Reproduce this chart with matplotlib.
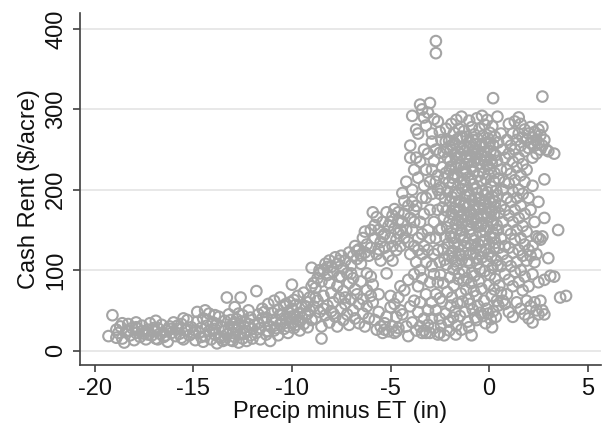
import numpy as np
import matplotlib
matplotlib.use("Agg")
import matplotlib.pyplot as plt

# (precip minus ET, cash rent) pairs, grouped by region

# very dry tail, -19.5 .. -15
dry_tail = [
    (-19.3, 18), (-19.1, 44), (-18.9, 26), (-18.8, 22), (-18.7, 30), (-18.6, 15), (-18.5, 10),
    (-18.4, 24), (-18.3, 33), (-18.2, 19), (-18.1, 28), (-18.0, 13), (-17.9, 22), (-17.9, 35),
    (-17.8, 27), (-17.7, 17), (-17.6, 31), (-17.5, 21), (-17.4, 14), (-17.3, 26), (-17.2, 34),
    (-17.1, 19), (-17.0, 24), (-16.9, 37), (-16.9, 15), (-16.8, 28), (-16.7, 21), (-16.6, 32),
    (-16.5, 17), (-16.4, 25), (-16.3, 11), (-16.2, 30), (-16.1, 22), (-16.0, 35), (-15.9, 18),
    (-15.8, 27), (-15.7, 21), (-15.6, 33), (-15.5, 14), (-15.4, 25), (-15.3, 38), (-15.2, 19),
    (-15.1, 29), (-15.0, 22), (-18.9, 16), (-18.3, 25), (-17.6, 24), (-17.0, 28), (-16.4, 19),
    (-15.8, 31), (-15.3, 26), (-16.8, 14), (-17.3, 20), (-18.6, 34), (-17.9, 29), (-16.1, 27),
    (-15.6, 16), (-15.5, 40),
]

# -15 .. -12
dry_mid = [
    (-14.9, 13), (-14.8, 36), (-14.8, 48), (-14.7, 22), (-14.6, 28), (-14.5, 11), (-14.5, 40),
    (-14.4, 18), (-14.3, 31), (-14.2, 46), (-14.2, 24), (-14.1, 14), (-14.0, 35), (-13.9, 20),
    (-13.9, 27), (-13.8, 9), (-13.7, 42), (-13.7, 17), (-13.6, 30), (-13.5, 24), (-13.5, 12),
    (-13.4, 37), (-13.3, 66), (-13.3, 20), (-13.2, 28), (-13.2, 45), (-13.1, 13), (-13.0, 33),
    (-13.0, 22), (-12.9, 54), (-12.9, 17), (-12.8, 39), (-12.8, 26), (-12.7, 10), (-12.7, 31),
    (-12.6, 66), (-12.6, 21), (-12.5, 44), (-12.5, 15), (-12.4, 29), (-12.4, 36), (-12.3, 12),
    (-12.3, 24), (-12.2, 50), (-12.2, 33), (-12.1, 19), (-12.1, 41), (-12.0, 27), (-14.6, 17),
    (-14.0, 25), (-13.6, 16), (-13.1, 38), (-12.9, 29), (-12.4, 21), (-14.9, 25), (-14.3, 38),
    (-13.8, 33), (-13.4, 14), (-12.7, 46), (-12.0, 15), (-14.4, 50), (-13.9, 44), (-13.0, 12),
    (-12.6, 36),
]

# -12 .. -9
semi_dry = [
    (-11.9, 32), (-11.8, 74), (-11.8, 22), (-11.7, 45), (-11.6, 28), (-11.6, 14), (-11.5, 52),
    (-11.4, 36), (-11.3, 20), (-11.3, 41), (-11.2, 58), (-11.1, 30), (-11.1, 12), (-11.0, 47),
    (-10.9, 25), (-10.9, 62), (-10.8, 38), (-10.7, 51), (-10.7, 19), (-10.6, 33), (-10.6, 66),
    (-10.5, 44), (-10.4, 27), (-10.4, 56), (-10.3, 39), (-10.2, 48), (-10.2, 22), (-10.1, 60),
    (-10.0, 82), (-10.0, 35), (-10.0, 52), (-9.9, 43), (-9.9, 28), (-9.8, 57), (-9.7, 38),
    (-9.7, 68), (-9.6, 47), (-9.6, 25), (-9.5, 54), (-9.4, 33), (-9.4, 72), (-9.3, 44),
    (-9.2, 60), (-9.2, 29), (-9.1, 50), (-9.0, 103), (-9.0, 38), (-9.0, 80), (-11.4, 48),
    (-11.0, 38), (-10.8, 28), (-10.5, 36), (-10.3, 58), (-10.1, 42), (-9.8, 32), (-9.5, 41),
    (-9.3, 55), (-9.1, 66), (-11.7, 34), (-11.2, 24), (-10.6, 45), (-9.9, 63), (-9.6, 36),
    (-9.2, 46), (-11.5, 40), (-10.2, 30),
]

# -9 .. -6, rising upper branch and flat lower part
transition = [
    (-8.9, 84), (-8.8, 78), (-8.7, 90), (-8.6, 96), (-8.5, 86), (-8.4, 100), (-8.3, 108),
    (-8.2, 94), (-8.1, 112), (-8.0, 104), (-7.9, 98), (-7.8, 116), (-7.7, 108), (-7.6, 92),
    (-7.5, 118), (-7.4, 102), (-7.3, 112), (-7.2, 96), (-7.1, 122), (-7.0, 106), (-6.9, 118),
    (-6.8, 130), (-6.7, 114), (-6.6, 126), (-6.5, 108), (-6.4, 140), (-6.3, 122), (-6.2, 132),
    (-6.1, 118), (-6.0, 150), (-6.0, 128), (-6.3, 148), (-6.7, 124), (-7.6, 112), (-8.2, 104),
    (-8.6, 100), (-7.0, 96), (-6.5, 118),
    (-8.9, 55), (-8.8, 40), (-8.7, 62), (-8.6, 48), (-8.5, 15), (-8.5, 30), (-8.4, 68),
    (-8.3, 44), (-8.2, 56), (-8.1, 35), (-8.0, 72), (-8.0, 49), (-7.9, 60), (-7.8, 42),
    (-7.7, 80), (-7.7, 30), (-7.6, 66), (-7.5, 52), (-7.4, 38), (-7.4, 74), (-7.3, 58),
    (-7.2, 45), (-7.1, 84), (-7.1, 32), (-7.0, 64), (-6.9, 50), (-6.9, 90), (-6.8, 40),
    (-6.7, 70), (-6.6, 58), (-6.6, 34), (-6.5, 86), (-6.4, 46), (-6.4, 64), (-6.3, 30),
    (-6.2, 75), (-6.2, 55), (-6.1, 40), (-6.0, 68), (-6.0, 92), (-8.4, 52), (-7.9, 46),
    (-7.3, 66), (-6.8, 76), (-6.2, 96), (-8.8, 66), (-8.1, 84), (-7.5, 92),
]

# -6 .. -4.5
near_normal = [
    (-5.9, 172), (-5.8, 140), (-5.7, 166), (-5.7, 120), (-5.6, 150), (-5.5, 135), (-5.5, 112),
    (-5.4, 160), (-5.3, 145), (-5.3, 128), (-5.2, 172), (-5.1, 155), (-5.1, 118), (-5.0, 140),
    (-4.9, 168), (-4.9, 130), (-4.8, 176), (-4.8, 152), (-4.7, 138), (-4.7, 125), (-4.6, 162),
    (-4.6, 146), (-4.5, 130), (-5.8, 156), (-5.4, 142), (-5.0, 160), (-4.6, 172), (-5.6, 126),
    (-4.9, 112), (-4.5, 150),
    (-5.9, 60), (-5.8, 38), (-5.7, 26), (-5.6, 48), (-5.5, 30), (-5.4, 22), (-5.3, 34),
    (-5.2, 42), (-5.1, 24), (-5.0, 68), (-5.0, 54), (-4.9, 30), (-4.8, 22), (-4.8, 58),
    (-4.7, 42), (-4.6, 66), (-4.6, 28), (-4.5, 50), (-4.5, 80), (-5.2, 96), (-5.6, 70),
    (-5.9, 82), (-4.7, 24), (-5.3, 26),
]

# -4.5 .. -2.5
humid_edge = [
    (-4.4, 196), (-4.3, 186), (-4.2, 210), (-4.1, 180), (-4.0, 255), (-4.0, 240), (-3.9, 292),
    (-3.9, 200), (-3.8, 225), (-3.8, 175), (-3.7, 240), (-3.7, 275), (-3.6, 270), (-3.6, 215),
    (-3.5, 306), (-3.5, 235), (-3.4, 300), (-3.4, 190), (-3.3, 290), (-3.3, 250), (-3.2, 280),
    (-3.2, 225), (-3.1, 296), (-3.1, 245), (-3.0, 308), (-3.0, 210), (-2.9, 270), (-2.9, 260),
    (-2.8, 288), (-2.8, 236), (-2.7, 385), (-2.7, 370), (-2.7, 250), (-2.6, 218), (-2.6, 285),
    (-2.5, 272), (-2.5, 246),
    (-4.4, 160), (-4.3, 140), (-4.2, 150), (-4.1, 135), (-4.0, 165), (-4.0, 120), (-3.9, 150),
    (-3.8, 130), (-3.8, 160), (-3.7, 110), (-3.7, 180), (-3.6, 140), (-3.6, 125), (-3.5, 160),
    (-3.5, 100), (-3.4, 145), (-3.4, 120), (-3.3, 170), (-3.3, 130), (-3.2, 110), (-3.2, 190),
    (-3.1, 150), (-3.1, 125), (-3.0, 175), (-3.0, 140), (-2.9, 105), (-2.9, 195), (-2.8, 160),
    (-2.8, 120), (-2.7, 210), (-2.7, 140), (-2.6, 175), (-2.6, 125), (-2.5, 195), (-2.5, 150),
    (-2.5, 110), (-4.3, 170), (-3.9, 185), (-3.3, 205), (-2.9, 225), (-2.6, 200),
    (-4.4, 45), (-4.3, 75), (-4.2, 30), (-4.1, 18), (-4.1, 88), (-4.0, 55), (-3.9, 35),
    (-3.8, 62), (-3.8, 95), (-3.7, 25), (-3.6, 48), (-3.6, 80), (-3.5, 30), (-3.5, 60),
    (-3.4, 22), (-3.4, 90), (-3.3, 40), (-3.3, 25), (-3.2, 70), (-3.2, 22), (-3.1, 50),
    (-3.1, 32), (-3.0, 85), (-3.0, 22), (-2.9, 60), (-2.9, 40), (-2.8, 95), (-2.8, 28),
    (-2.7, 70), (-2.7, 50), (-2.6, 20), (-2.6, 85), (-2.5, 40), (-2.5, 65), (-2.5, 22),
]

# dense core, -2.5 .. 0.5
core = [
    (-2.42, 262), (-2.38, 228), (-2.45, 203), (-2.36, 178), (-2.41, 152), (-2.33, 126), (-2.47, 94), (-2.39, 61), (-2.44, 31),
    (-2.31, 247), (-2.27, 214), (-2.24, 189), (-2.29, 166), (-2.22, 141), (-2.26, 113), (-2.33, 84), (-2.21, 46), (-2.28, 19),
    (-2.18, 276), (-2.14, 251), (-2.19, 221), (-2.11, 198), (-2.16, 174), (-2.13, 153), (-2.08, 133), (-2.17, 107), (-2.12, 73), (-2.06, 36),
    (-2.03, 261), (-1.98, 236), (-2.05, 209), (-1.96, 186), (-2.01, 161), (-1.94, 142), (-2.04, 118), (-1.99, 91), (-1.95, 56), (-2.02, 25),
    (-1.91, 282), (-1.87, 256), (-1.93, 229), (-1.84, 207), (-1.89, 191), (-1.82, 169), (-1.90, 146), (-1.85, 124), (-1.81, 101), (-1.88, 66), (-1.83, 41),
    (-1.78, 271), (-1.74, 244), (-1.80, 219), (-1.72, 197), (-1.77, 177), (-1.70, 157), (-1.76, 134), (-1.71, 111), (-1.79, 81), (-1.73, 49), (-1.69, 20),
    (-1.66, 287), (-1.62, 263), (-1.68, 239), (-1.59, 216), (-1.64, 194), (-1.57, 173), (-1.63, 151), (-1.58, 129), (-1.65, 106), (-1.56, 89), (-1.61, 59), (-1.67, 31),
    (-1.53, 276), (-1.49, 253), (-1.55, 231), (-1.46, 209), (-1.51, 186), (-1.44, 166), (-1.50, 143), (-1.45, 119), (-1.52, 96), (-1.43, 71), (-1.48, 43),
    (-1.40, 291), (-1.36, 266), (-1.42, 244), (-1.33, 222), (-1.38, 201), (-1.31, 180), (-1.37, 158), (-1.32, 137), (-1.39, 113), (-1.30, 87), (-1.35, 61), (-1.41, 26),
    (-1.27, 273), (-1.23, 249), (-1.29, 227), (-1.20, 206), (-1.25, 183), (-1.18, 162), (-1.24, 141), (-1.19, 121), (-1.26, 98), (-1.17, 76), (-1.22, 48),
    (-1.14, 266), (-1.10, 241), (-1.16, 221), (-1.07, 199), (-1.12, 178), (-1.05, 156), (-1.11, 134), (-1.06, 112), (-1.13, 90), (-1.04, 64), (-1.09, 36),
    (-1.01, 286), (-0.97, 259), (-1.03, 236), (-0.94, 214), (-0.99, 193), (-0.92, 172), (-0.98, 151), (-0.93, 131), (-1.00, 109), (-0.91, 84), (-0.96, 58), (-1.02, 29),
    (-0.88, 278), (-0.84, 252), (-0.90, 229), (-0.81, 207), (-0.86, 187), (-0.79, 164), (-0.85, 144), (-0.80, 121), (-0.87, 97), (-0.78, 74), (-0.83, 51), (-0.89, 19),
    (-0.75, 269), (-0.71, 245), (-0.77, 223), (-0.68, 201), (-0.73, 181), (-0.66, 158), (-0.72, 137), (-0.67, 115), (-0.74, 93), (-0.65, 68), (-0.70, 41),
    (-0.62, 289), (-0.58, 263), (-0.64, 239), (-0.55, 217), (-0.60, 196), (-0.53, 176), (-0.59, 154), (-0.54, 132), (-0.61, 108), (-0.52, 86), (-0.57, 56), (-0.63, 38),
    (-0.49, 276), (-0.45, 254), (-0.51, 232), (-0.42, 211), (-0.47, 189), (-0.40, 167), (-0.46, 147), (-0.41, 124), (-0.48, 101), (-0.39, 77), (-0.44, 47),
    (-0.36, 292), (-0.32, 267), (-0.38, 243), (-0.29, 221), (-0.34, 199), (-0.27, 181), (-0.33, 159), (-0.28, 137), (-0.35, 116), (-0.26, 62), (-0.31, 43),
    (-0.23, 281), (-0.19, 258), (-0.25, 236), (-0.16, 213), (-0.21, 193), (-0.14, 171), (-0.20, 149), (-0.15, 126), (-0.22, 99), (-0.13, 52), (-0.18, 34),
    (-0.10, 287), (-0.06, 264), (-0.12, 241), (-0.03, 219), (-0.08, 197), (-0.01, 177), (-0.07, 154), (-0.02, 133), (-0.09, 111), (0.00, 82), (-0.05, 46),
    (0.03, 271), (0.07, 248), (0.01, 226), (0.10, 204), (0.05, 184), (0.12, 162), (0.06, 141), (0.11, 117), (0.04, 94), (0.13, 68), (0.08, 39),
    (0.16, 279), (0.20, 256), (0.14, 233), (0.23, 211), (0.18, 191), (0.25, 169), (0.19, 147), (0.24, 127), (0.17, 103), (0.26, 76), (0.21, 49), (0.15, 29),
    (0.20, 314), (0.29, 266), (0.33, 243), (0.27, 221), (0.36, 199), (0.31, 178), (0.38, 156), (0.32, 134), (0.37, 112), (0.30, 89), (0.39, 62), (0.34, 42),
    (0.42, 291), (0.46, 259), (0.40, 236), (0.49, 214), (0.44, 193), (0.51, 171), (0.45, 150), (0.50, 128), (0.43, 106), (0.52, 81), (0.47, 56),
    (-1.95, 250), (-1.86, 215), (-1.75, 258), (-1.69, 228), (-1.58, 247), (-1.47, 266), (-1.43, 231), (-1.34, 251),
    (-1.26, 212), (-1.15, 232), (-1.08, 252), (-0.95, 243), (-0.82, 262), (-0.76, 235), (-0.69, 257), (-0.56, 248),
    (-0.43, 238), (-0.37, 257), (-0.24, 247), (-0.11, 230), (0.02, 258), (0.09, 237), (0.22, 245),
    (-1.90, 170), (-1.80, 140), (-1.70, 185), (-1.60, 162), (-1.50, 175), (-1.40, 150), (-1.30, 170), (-1.20, 192),
    (-1.10, 168), (-1.00, 182), (-0.90, 160), (-0.80, 175), (-0.70, 190), (-0.60, 165), (-0.50, 178), (-0.40, 155),
    (-0.30, 170), (-0.20, 185), (-0.10, 165), (0.00, 188), (0.10, 172), (0.20, 158), (0.30, 185),
    (-1.85, 115), (-1.55, 120), (-1.25, 130), (-0.95, 120), (-0.65, 128), (-0.35, 135), (-0.05, 120), (0.25, 140),
    (-2.20, 260), (-2.10, 240), (-2.00, 225),
]

# wet side, 0.5 .. 4
wet = [
    (0.6, 270), (0.6, 225), (0.6, 180), (0.6, 140), (0.6, 105), (0.6, 72), (0.7, 250), (0.7, 200),
    (0.7, 160), (0.7, 120), (0.7, 62), (0.8, 240), (0.8, 210), (0.8, 175), (0.8, 130), (0.8, 95),
    (0.8, 58), (0.9, 262), (0.9, 225), (0.9, 190), (0.9, 150), (0.9, 112), (0.9, 70), (1.0, 282),
    (1.0, 245), (1.0, 208), (1.0, 168), (1.0, 128), (1.0, 88), (1.0, 48), (1.1, 255), (1.1, 220),
    (1.1, 185), (1.1, 145), (1.1, 105), (1.2, 270), (1.2, 235), (1.2, 198), (1.2, 160), (1.2, 122),
    (1.2, 80), (1.2, 42), (1.3, 285), (1.3, 250), (1.3, 212), (1.3, 175), (1.3, 138), (1.3, 98),
    (1.4, 262), (1.4, 228), (1.4, 190), (1.4, 150), (1.4, 110), (1.4, 60), (1.5, 290), (1.5, 270),
    (1.5, 240), (1.5, 200), (1.5, 165), (1.5, 125), (1.5, 85), (1.6, 282), (1.6, 255), (1.6, 218),
    (1.6, 180), (1.6, 140), (1.6, 100), (1.6, 52), (1.7, 265), (1.7, 232), (1.7, 195), (1.7, 155),
    (1.7, 118), (1.7, 75), (1.8, 275), (1.8, 248), (1.8, 210), (1.8, 170), (1.8, 132), (1.8, 92),
    (1.8, 45), (1.9, 262), (1.9, 225), (1.9, 148), (1.9, 112), (1.9, 62), (2.0, 270), (2.0, 252),
    (2.0, 190), (2.0, 125), (2.0, 80), (2.0, 40), (2.1, 278), (2.1, 258), (2.1, 175), (2.1, 118),
    (2.1, 55), (2.2, 265), (2.2, 240), (2.2, 205), (2.2, 130), (2.2, 95), (2.2, 35), (2.3, 272),
    (2.3, 255), (2.3, 160), (2.3, 110), (2.3, 60), (2.4, 262), (2.4, 245), (2.4, 142), (2.4, 120),
    (2.4, 50), (2.5, 275), (2.5, 258), (2.5, 185), (2.5, 140), (2.5, 85), (2.5, 45), (2.6, 268),
    (2.6, 250), (2.6, 138), (2.6, 62), (2.7, 316), (2.7, 278), (2.7, 255), (2.7, 142), (2.7, 50),
    (2.8, 262), (2.8, 213), (2.8, 165), (2.8, 88), (2.8, 45), (2.9, 250), (3.0, 248), (3.0, 115),
    (3.1, 93), (3.3, 245), (3.3, 92), (3.5, 150), (3.6, 66), (3.9, 68),
]

groups = [dry_tail, dry_mid, semi_dry, transition, near_normal, humid_edge, core, wet]
pts = np.array([p for g in groups for p in g], dtype=float)

x_ticks = [-20, -15, -10, -5, 0, 5]
y_ticks = [0, 100, 200, 300, 400]

plt.rcParams['font.family'] = ['Liberation Sans', 'DejaVu Sans']

fig = plt.figure(figsize=(6.13, 4.32), dpi=100)
ax = fig.add_axes([0.13, 0.155, 0.851, 0.815])

ax.scatter(pts[:, 0], pts[:, 1], s=58, facecolors='none', edgecolors='#a4a4a4',
           linewidths=1.5, zorder=3)

ax.set_xlim(-20.76, 5.69)
ax.set_ylim(-18, 420)
ax.set_xticks(x_ticks)
ax.set_yticks(y_ticks)
ax.set_xticklabels([str(t) for t in x_ticks], fontsize=17)
ax.set_yticklabels([str(t) for t in y_ticks], fontsize=17, rotation=90, va='center')

ax.grid(axis='y', color='#e4e4e4', linewidth=1.2, zorder=0)
ax.set_axisbelow(True)

for side in ['top', 'right']:
    ax.spines[side].set_visible(False)
for side in ['left', 'bottom']:
    ax.spines[side].set_color('#404040')
    ax.spines[side].set_linewidth(1.2)
ax.tick_params(direction='out', length=5, width=1.2, color='#404040', labelcolor='#111111', pad=4)

ax.set_xlabel('Precip minus ET (in)', fontsize=17, color='#111111', labelpad=1)
ax.set_ylabel('Cash Rent ($/acre)', fontsize=17, color='#111111', labelpad=4)

fig.savefig('out.png', dpi=100, facecolor='white')
